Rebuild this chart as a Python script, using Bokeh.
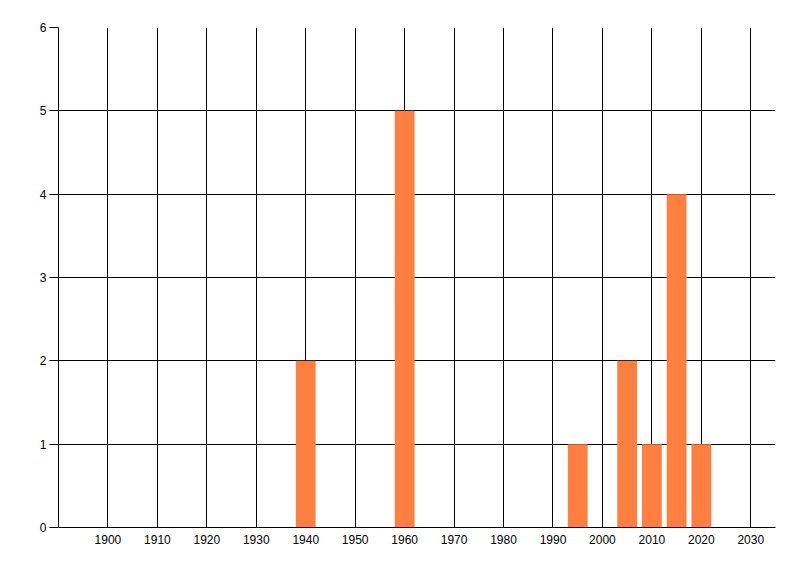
from bokeh.plotting import figure
from bokeh.models import Range1d, FixedTicker
from bokeh.embed import file_html
from bokeh.resources import INLINE

years = [1940, 1960, 1995, 2005, 2010, 2015, 2020]
counts = [2, 5, 1, 2, 1, 4, 1]
x_ticks = [1900, 1910, 1920, 1930, 1940, 1950, 1960, 1970, 1980, 1990, 2000, 2010, 2020, 2030]
y_ticks = [0, 1, 2, 3, 4, 5, 6]

p = figure(width=790, height=568, output_backend="svg", toolbar_location=None,
           x_range=Range1d(1890, 2035), y_range=Range1d(0, 6),
           min_border_left=58, min_border_right=15, min_border_top=27, min_border_bottom=41)
p.outline_line_color = None
p.background_fill_color = "white"
p.border_fill_color = "white"

p.vbar(x=years, top=counts, width=4, bottom=0, fill_color="#FF7F40", line_color=None)

for ax in (p.xaxis[0], p.yaxis[0]):
    ax.axis_line_color = "black"
    ax.axis_line_width = 1
    ax.minor_tick_line_color = None
    ax.major_label_text_font = "Liberation Sans"
    ax.major_label_text_font_size = "12px"
    ax.major_label_text_color = "black"
    ax.major_label_text_font_style = "normal"

p.xaxis.ticker = FixedTicker(ticks=x_ticks)
p.yaxis.ticker = FixedTicker(ticks=y_ticks)
p.xaxis.major_tick_out = 0
p.xaxis.major_tick_in = 0
p.xaxis.major_label_standoff = 7
p.yaxis.major_tick_out = 9
p.yaxis.major_tick_in = 0
p.yaxis.major_tick_line_color = "black"
p.yaxis.major_label_standoff = 3

p.xgrid.grid_line_color = "black"
p.ygrid.grid_line_color = "black"
p.xgrid.grid_line_width = 1
p.ygrid.grid_line_width = 1
p.xgrid.ticker = FixedTicker(ticks=x_ticks)
p.ygrid.ticker = FixedTicker(ticks=y_ticks)

open("out.html", "w").write(file_html(p, INLINE))
